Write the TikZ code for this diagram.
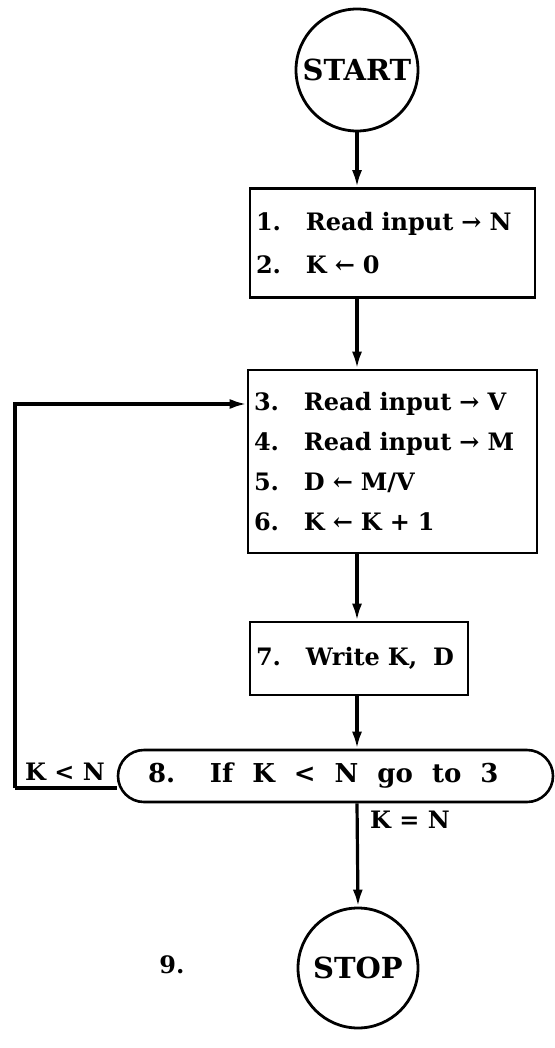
\documentclass[tikz,border=0pt]{standalone}
\usepackage{fontspec}
\setmainfont{DejaVu Serif}
\usetikzlibrary{arrows.meta,shapes.misc}
\begin{document}
\begin{tikzpicture}[x=1pt,y=-1pt,
  every node/.style={font=\bfseries\fontsize{24}{40}\selectfont},
  conn/.style={line width=3.2pt},
  arr/.style={conn,-{Latex[length=17pt,width=10pt]}},
  procbox/.style={draw,line width=2.6pt,align=left,inner xsep=6pt,inner ysep=0pt,anchor=center},
  term/.style={draw,circle,line width=2.8pt,inner sep=0pt,font=\bfseries\fontsize{29}{32}\selectfont},
  lbl/.style={inner sep=0pt}]
\useasboundingbox (0,0) rectangle (554,1048);
\newcommand{\nb}[2]{\makebox[#1pt][l]{#2}}
% START
\node[term,minimum size=122pt] (start) at (357,70) {START};
% box 1
\node[procbox,text width=273pt,minimum height=109pt,font=\bfseries\fontsize{24}{43}\selectfont] (b1) at (392.5,243)
  {\nb{50}{1.}Read input → N\\\nb{50}{2.}K ← 0};
% box 2
\node[procbox,text width=277pt,minimum height=183pt] (b2) at (392.5,461.5)
  {\nb{50}{3.}Read input → V\\\nb{50}{4.}Read input → M\\\nb{50}{5.}D ← M/V\\\nb{50}{6.}K ← K + 1};
% box 3
\node[procbox,text width=206pt,minimum height=73pt] (b3) at (359,658.5)
  {\nb{50}{7.}Write K,\ \ D};
% box 4
\node[draw,rounded rectangle,line width=2.6pt,minimum width=435pt,minimum height=52pt,inner xsep=0pt,inner ysep=0pt,text width=405pt,align=left,font=\bfseries\fontsize{26}{40}\selectfont] (b4) at (335.5,776)
  {\hspace*{15pt}\nb{62}{8.}\spaceskip=19pt If K < N go to 3};
% STOP
\node[term,minimum size=120pt] (stop) at (358,968) {STOP};
\node[lbl] (nine) at (172,965) {9.};
% connectors
\draw[arr] (start.south) -- (start.south |- b1.north);
\draw[arr] (b1.south -| start.south) -- (start.south |- b2.north);
\draw[arr] (b2.south -| start.south) -- (start.south |- b3.north);
\draw[arr] (b3.south -| start.south) -- (start.south |- b4.north);
\coordinate (lc) at (15,788);
\coordinate (lt) at (15,404);
\draw[conn] (b4.west |- lc) -- (lc);
\draw[arr] (lc) -- (lt) -- (b2.west |- lt);
\node[lbl,anchor=base] (kltn) at (65,780) {K < N};
\draw[arr] (b4.south -| start.south) -- (stop.north);
\node[lbl,anchor=west] (keqn) at (370,820) {K = N};
\end{tikzpicture}
\end{document}
